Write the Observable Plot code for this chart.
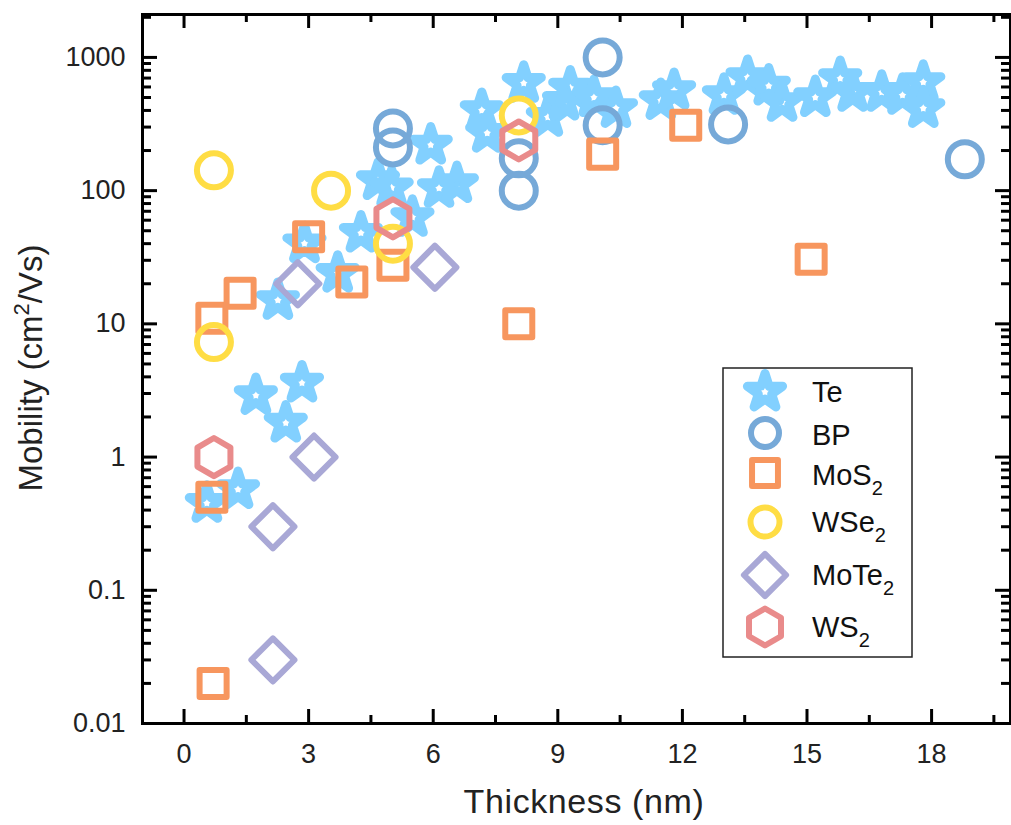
<!DOCTYPE html>
<html><head><meta charset="utf-8">
<script src="https://cdn.jsdelivr.net/npm/d3@7"></script>
<script src="https://cdn.jsdelivr.net/npm/@observablehq/plot@0.6"></script>
<style>
body{margin:0;background:#fff;}
#chart{position:relative;width:1011px;height:825px;}
</style></head><body><div id="chart"></div>
<script>
// ---- data (thickness in nm, mobility in cm^2/Vs) ----
const teThickness = [0.55, 1.3, 1.73, 2.45, 2.84, 2.26, 2.9, 3.7, 4.26, 4.67, 5.0, 5.5, 5.94, 6.14, 6.57, 7.17, 7.3, 8.18, 8.76, 9.15, 9.3, 9.87, 10.4, 11.48, 11.8, 13.0, 13.57, 14.08, 14.4, 15.2, 15.8, 16.1, 16.8, 17.3, 17.8, 17.8];
const teMobility  = [0.45, 0.57, 2.9, 1.8, 3.6, 15, 40, 24, 48, 119, 105, 63, 220, 104, 113, 400, 270, 640, 355, 470, 590, 500, 414, 475, 565, 519, 708, 610, 460, 500, 695, 547, 547, 519, 650, 414];
const bpThickness = [5.03, 5.03, 8.06, 8.06, 10.08, 10.08, 13.1, 18.8];
const bpMobility  = [293, 211, 100, 175, 1000, 310, 314, 172];
const mos2Thickness = [0.7, 0.67, 0.67, 1.35, 3.0, 4.04, 5.03, 8.06, 10.08, 12.08, 15.1];
const mos2Mobility  = [0.02, 0.5, 11, 17, 45, 20.6, 27.5, 10, 188, 310, 30.5];
const wse2Thickness = [0.72, 0.72, 3.54, 5.03, 8.06];
const wse2Mobility  = [142, 7.3, 100, 40, 367];
const mote2Thickness = [2.14, 2.14, 3.13, 2.74, 6.04];
const mote2Mobility  = [0.03, 0.3, 1, 20, 26.6];
const ws2Thickness = [0.72, 5.03, 8.06];
const ws2Mobility  = [1, 62, 238];

const seriesNames = ["Te", "BP", "MoS", "WSe", "MoTe", "WS"];
const seriesSub   = ["", "", "2", "2", "2", "2"];
const seriesColors = ["#82d0ff", "#76a9d8", "#f7965e", "#ffdd44", "#a9a8d6", "#e98b8b"];

const xMajorTicks = [0, 3, 6, 9, 12, 15, 18];
const xMinorTicks = [1.5, 4.5, 7.5, 10.5, 13.5, 16.5, 19.5];
const yMajorTicks = [0.01, 0.1, 1, 10, 100, 1000];
const yMinorTicks = [];
for (const d of [0.01, 0.1, 1, 10, 100, 1000]) for (let k = 2; k <= 9; k++) if (d * k < 2100) yMinorTicks.push(+(d * k).toPrecision(3));

// hexagon symbol (pointy top)
const hexSymbol = {
  draw(context, size) {
    const rx = Math.sqrt(size / Math.PI), ry = rx * 2 / Math.sqrt(3), hy = ry / 2;
    context.moveTo(0, ry); context.lineTo(rx, hy); context.lineTo(rx, -hy);
    context.lineTo(0, -ry); context.lineTo(-rx, -hy); context.lineTo(-rx, hy); context.closePath();
  }
};

const zip = (xs, ys) => xs.map((x, i) => ({x, y: ys[i]}));
const series = [
  {data: zip(teThickness, teMobility), symbol: d3.symbolStar, r: 11.06, sw: 9},
  {data: zip(bpThickness, bpMobility), symbol: d3.symbolCircle, r: 17, sw: 6},
  {data: zip(mos2Thickness, mos2Mobility), symbol: d3.symbolSquare2, r: 17.2, sw: 6},
  {data: zip(wse2Thickness, wse2Mobility), symbol: d3.symbolCircle, r: 17, sw: 6},
  {data: zip(mote2Thickness, mote2Mobility), symbol: d3.symbolDiamond2, r: 19.4, sw: 6},
  {data: zip(ws2Thickness, ws2Mobility), symbol: hexSymbol, r: 16.5, sw: 6}
];

const W = 1011, H = 825, mL = 142, mR = 1, mT = 14, mB = 102;
const iw = W - mL - mR, ih = H - mT - mB;
const majLen = 15, minLen = 9, xMajLen = 14, xMinLen = 8;

const marks = [
  Plot.axisX({ticks: xMajorTicks, tickSize: 0, tickPadding: 20, fontSize: 27, label: null, tickFormat: d => String(d)}),
  Plot.axisY({ticks: yMajorTicks, tickSize: 0, tickPadding: 17, fontSize: 27, label: null, tickFormat: d => String(d)})
];
series.forEach((s, i) => {
  marks.push(Plot.dot(s.data, {x: "x", y: "y", symbol: s.symbol, r: s.r, stroke: seriesColors[i], strokeWidth: s.sw, fill: "none", strokeLinejoin: "round"}));
});
const tk = {stroke: "black", strokeWidth: 3};
marks.push(
  Plot.tickY(yMajorTicks, {y: d => d, insetRight: iw - majLen, ...tk}),
  Plot.tickY(yMinorTicks, {y: d => d, insetRight: iw - minLen, ...tk}),
  Plot.tickY(yMajorTicks, {y: d => d, insetLeft: iw - majLen, ...tk}),
  Plot.tickY(yMinorTicks, {y: d => d, insetLeft: iw - minLen, ...tk}),
  Plot.tickX(xMajorTicks, {x: d => d, insetTop: ih - xMajLen, ...tk}),
  Plot.tickX(xMinorTicks, {x: d => d, insetTop: ih - xMinLen, ...tk}),
  Plot.tickX(xMajorTicks, {x: d => d, insetBottom: ih - xMajLen, ...tk}),
  Plot.tickX(xMinorTicks, {x: d => d, insetBottom: ih - xMinLen, ...tk}),
  Plot.frame({stroke: "black", strokeWidth: 3})
);

const chart = Plot.plot({
  width: W, height: H,
  marginLeft: mL, marginRight: mR, marginTop: mT, marginBottom: mB,
  style: {fontFamily: "'Liberation Sans', Arial, sans-serif", background: "white", color: "#222"},
  x: {domain: [-1, 19.9], label: null},
  y: {type: "log", domain: [0.01, 2100], label: null},
  marks
});
document.getElementById("chart").appendChild(chart);

const svg = d3.select(chart);
const font = "'Liberation Sans', Arial, sans-serif";
// axis titles
svg.append("text").attr("x", 584).attr("y", 813).attr("text-anchor", "middle")
  .attr("font-family", font).attr("font-size", 34).attr("letter-spacing", 0.6).attr("fill", "#222").text("Thickness (nm)");
const yt = svg.append("text").attr("transform", "translate(42,368) rotate(-90)").attr("text-anchor", "middle")
  .attr("font-family", font).attr("font-size", 33).attr("fill", "#222");
yt.append("tspan").text("Mobility (cm");
yt.append("tspan").attr("font-size", 22).attr("dy", -13).text("2");
yt.append("tspan").attr("dy", 13).text("/Vs)");

// legend
const lg = svg.append("g");
lg.append("rect").attr("x", 723).attr("y", 368).attr("width", 189).attr("height", 289)
  .attr("fill", "white").attr("stroke", "#222").attr("stroke-width", 1.5);
const rowY = [392, 433, 473, 522, 575, 627];
const baseY = [402, 445, 485, 532, 585, 637];
const legR = [11.06, 14, 16.5, 14.5, 19, 16];
series.forEach((s, i) => {
  lg.append("path").attr("transform", `translate(765,${rowY[i]})`)
    .attr("d", d3.symbol(s.symbol, Math.PI * legR[i] * legR[i])())
    .attr("fill", "none").attr("stroke", seriesColors[i]).attr("stroke-width", s.sw).attr("stroke-linejoin", "round");
  const t = lg.append("text").attr("x", 812).attr("y", baseY[i]).attr("text-anchor", "start")
    .attr("font-family", font).attr("font-size", 29).attr("fill", "#111");
  t.append("tspan").text(seriesNames[i]);
  if (seriesSub[i]) t.append("tspan").attr("font-size", 20).attr("dy", 10).text(seriesSub[i]);
});
</script></body></html>
